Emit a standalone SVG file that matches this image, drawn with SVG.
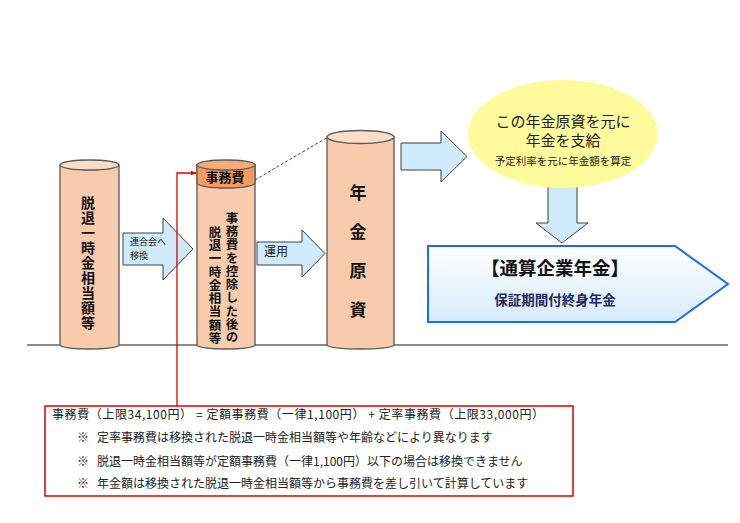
<svg xmlns="http://www.w3.org/2000/svg" width="740" height="523" viewBox="0 0 740 523">
<defs>
<linearGradient id="pentGrad" x1="0" y1="0" x2="0" y2="1">
<stop offset="0" stop-color="#FFFFFF"/>
<stop offset="1" stop-color="#D6ECFC"/>
</linearGradient>
<marker id="redHead" viewBox="0 0 10 10" refX="9" refY="5" markerWidth="6" markerHeight="6" orient="auto" markerUnits="userSpaceOnUse">
<path d="M0,1 L10,5 L0,9 Z" fill="#E00000"/>
</marker>
<style>
.jp{font-family:"Noto Sans CJK JP","Noto Sans CJK SC",sans-serif;}
.cylBody{fill:#F8CBAD;stroke:#595959;stroke-width:1.3;}
.cylTop{fill:#FBDDC8;stroke:#595959;stroke-width:1.3;}
.band{fill:#F59B5E;stroke:#595959;stroke-width:1.3;}
.bandTop{fill:#F7AC78;stroke:#595959;stroke-width:1.3;}
.arrow{fill:#CFEAFB;stroke:#404040;stroke-width:1;}
.vt{font-weight:bold;fill:#111;writing-mode:vertical-rl;}
.note{font-size:12px;fill:#222;}
</style>
</defs>
<rect width="740" height="523" fill="#FFFFFF"/>
<line x1="27" y1="345" x2="728" y2="345" stroke="#666" stroke-width="1.5"/>

<g id="connectors">
<polygon class="arrow" points="123,233 163,233 163,218 193,249 163,280 163,265 123,265"/>
<polygon class="arrow" points="257,242 302,242 302,230 325,253.5 302,277 302,265 257,265"/>
<polygon class="arrow" points="401,143 441,143 441,131 467,156.5 441,182 441,170 401,170"/>
<polygon class="arrow" points="548,186 577,186 577,223 588,223 562,243 536,223 548,223"/>
<line x1="255" y1="180" x2="328" y2="137" stroke="#444" stroke-width="1" stroke-dasharray="3,2"/>
<polyline points="177,406 177,173 196,173" fill="none" stroke="#E00000" stroke-width="1.3" marker-end="url(#redHead)"/>
<text class="jp" font-size="9" fill="#222"><tspan x="130" y="245">連合会へ</tspan><tspan x="130" y="258.5">移換</tspan></text>
<text class="jp" x="264" y="256" font-size="12" fill="#222">運用</text>
</g>

<g id="cyl1">
<path class="cylBody" d="M60,165 V345 A29.5,4 0 0 0 119,345 V165 Z"/>
<ellipse class="cylTop" cx="89.5" cy="165" rx="29.5" ry="5"/>
<text class="jp vt" x="88" y="196" font-size="14" letter-spacing="0.9">脱退一時金相当額等</text>
</g>

<g id="cyl2">
<path class="cylBody" d="M197,165 V345 A29,4 0 0 0 255,345 V165 Z"/>
<path class="band" d="M197,165 V183 A29,5 0 0 0 255,183 V165 Z"/>
<ellipse class="bandTop" cx="226" cy="165" rx="29" ry="5"/>
<text class="jp" x="225" y="182" font-size="13" font-weight="bold" fill="#111" text-anchor="middle">事務費</text>
<text class="jp vt" x="232" y="211.7" font-size="12.5" letter-spacing="0.8">事務費を控除した後の</text>
<text class="jp vt" x="215" y="225.7" font-size="12.5" letter-spacing="0.8">脱退一時金相当額等</text>
</g>

<g id="cyl3">
<path class="cylBody" d="M327,137 V345 A33.5,4 0 0 0 394,345 V137 Z"/>
<ellipse class="cylTop" cx="360.5" cy="137" rx="33.5" ry="6.5"/>
<text class="jp vt" x="358" y="184.5" font-size="17" letter-spacing="22">年金原資</text>
</g>

<g id="ellipse-node">
<ellipse cx="563" cy="134" rx="95" ry="54" fill="#FFFA9C"/>
<text class="jp" font-size="15" fill="#222" text-anchor="middle"><tspan x="563" y="126.5">この年金原資を元に</tspan><tspan x="563" y="146">年金を支給</tspan></text>
<text class="jp" x="563" y="165" font-size="10.5" fill="#222" text-anchor="middle">予定利率を元に年金額を算定</text>
</g>

<g id="pentagon-node">
<polygon points="428,246 675,246 728,284 675,322 428,322" fill="url(#pentGrad)" stroke="#1E6BF0" stroke-width="2"/>
<text class="jp" x="555" y="275" font-size="18.5" font-weight="bold" fill="#111" text-anchor="middle">【通算企業年金】</text>
<text class="jp" x="555" y="305" font-size="13.5" font-weight="bold" fill="#1F2A66" text-anchor="middle">保証期間付終身年金</text>
</g>

<g id="note-box">
<rect x="45" y="406" width="528" height="90" fill="#FFFFFF" stroke="#E00000" stroke-width="1.5"/>
<text class="jp note" x="52" y="419" textLength="492" lengthAdjust="spacing">事務費（上限34,100円） = 定額事務費（一律1,100円） + 定率事務費（上限33,000円）</text>
<text class="jp note" x="77" y="442">※</text>
<text class="jp note" x="97" y="442">定率事務費は移換された脱退一時金相当額等や年齢などにより異なります</text>
<text class="jp note" x="77" y="466">※</text>
<text class="jp note" x="97" y="466">脱退一時金相当額等が定額事務費（一律1,100円）以下の場合は移換できません</text>
<text class="jp note" x="77" y="488">※</text>
<text class="jp note" x="97" y="488">年金額は移換された脱退一時金相当額等から事務費を差し引いて計算しています</text>
</g>
</svg>
